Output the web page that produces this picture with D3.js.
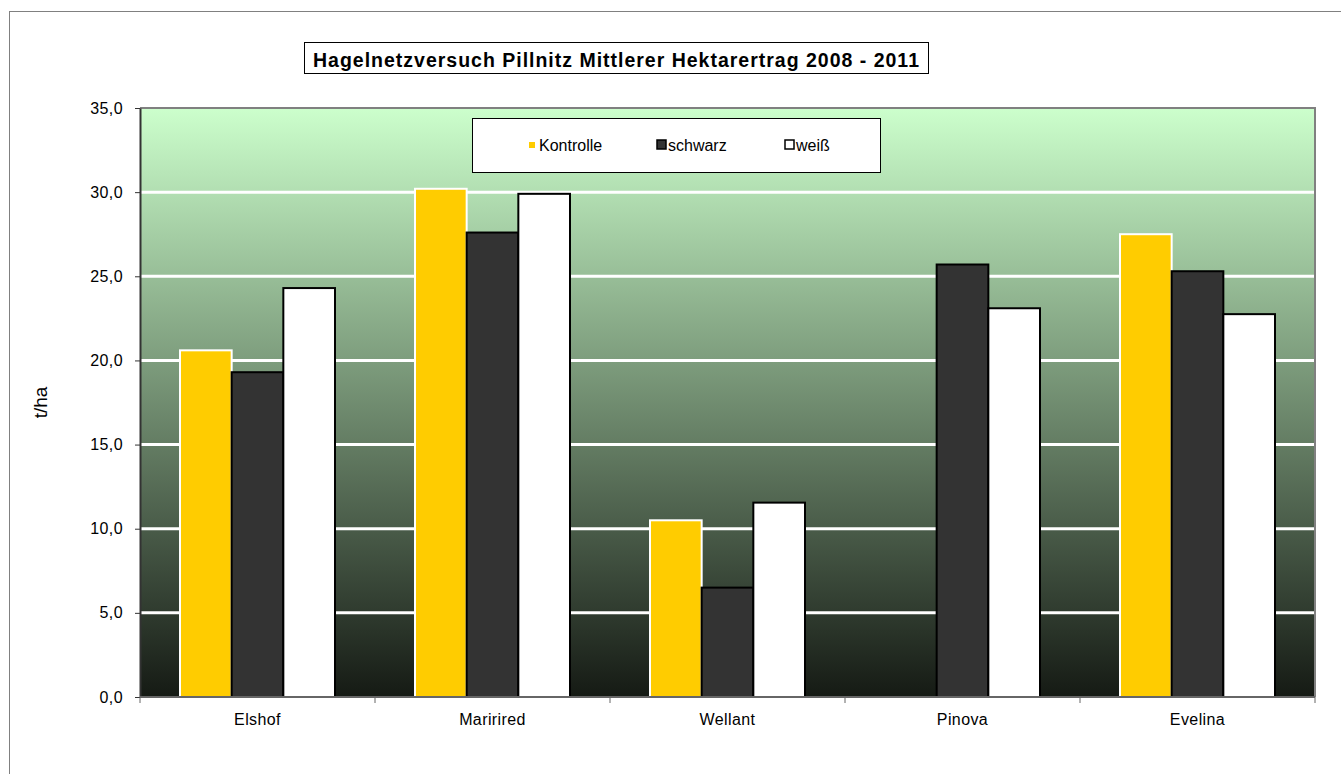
<!DOCTYPE html>
<html>
<head>
<meta charset="utf-8">
<script src="https://cdn.jsdelivr.net/npm/d3@7"></script>
<style>
  body { margin: 0; background: #fff; }
  svg { display: block; font-family: "Liberation Sans", Arial, sans-serif; }
</style>
</head>
<body>
<div id="chart"></div>
<script>
// data
const sorten = ['Elshof', 'Maririred', 'Wellant', 'Pinova', 'Evelina'];
const serien = ['Kontrolle', 'schwarz', 'weiß'];
const kontrolle = [20.6, 30.2, 10.5, 0, 27.5];
const schwarz = [19.3, 27.6, 6.5, 25.7, 25.3];
const weiss = [24.3, 29.9, 11.55, 23.1, 22.75];
const yTicks = [0, 5, 10, 15, 20, 25, 30, 35];

const fills = { 'Kontrolle': '#FFCC00', 'schwarz': '#333333', 'weiß': '#FFFFFF' };
const strokes = { 'Kontrolle': '#FFFFFF', 'schwarz': '#000000', 'weiß': '#000000' };

const W = 1341, H = 774;
const margin = { left: 140, right: 26, top: 108, bottom: 77 };
const FS = 16;

const svg = d3.select('#chart').append('svg')
    .attr('width', W)
    .attr('height', H);

// outer chart frame (runs off the right and bottom edge)
svg.append('rect')
    .attr('x', 9.5).attr('y', 11.5)
    .attr('width', W + 10).attr('height', H + 10)
    .attr('fill', 'none')
    .attr('stroke', '#808080')
    .attr('stroke-width', 1);

const x0 = d3.scaleBand()
    .domain(sorten)
    .range([margin.left, W - margin.right]);

const gap = 80;
const x1 = d3.scaleBand()
    .domain(serien)
    .range([gap / 2, x0.bandwidth() - gap / 2]);

const y = d3.scaleLinear()
    .domain([0, 35])
    .range([H - margin.bottom, margin.top]);

// plot background gradient
const defs = svg.append('defs');
const grad = defs.append('linearGradient')
    .attr('id', 'bg')
    .attr('x1', 0).attr('y1', 0).attr('x2', 0).attr('y2', 1);
grad.append('stop').attr('offset', '0%').attr('stop-color', '#CCFFCC');
grad.append('stop').attr('offset', '100%').attr('stop-color', '#151a14');

svg.append('rect')
    .attr('x', margin.left)
    .attr('y', y(35))
    .attr('width', x0.range()[1] - margin.left)
    .attr('height', y(0) - y(35))
    .attr('fill', 'url(#bg)');

// gridlines
svg.append('g').selectAll('line.grid')
    .data(yTicks.filter(d => d > 0 && d < 35))
    .join('line')
    .attr('class', 'grid')
    .attr('x1', margin.left)
    .attr('x2', x0.range()[1])
    .attr('y1', d => y(d))
    .attr('y2', d => y(d))
    .attr('stroke', '#FFFFFF')
    .attr('stroke-width', 3);

// plot border top + right
svg.append('path')
    .attr('d', `M${margin.left},${y(35)}H${x0.range()[1]}V${y(0)}`)
    .attr('fill', 'none')
    .attr('stroke', '#808080')
    .attr('stroke-width', 2);

// bars
const rows = sorten.map((s, i) => ({
    sorte: s,
    werte: [
        { serie: 'Kontrolle', v: kontrolle[i] },
        { serie: 'schwarz', v: schwarz[i] },
        { serie: 'weiß', v: weiss[i] }
    ]
}));

svg.append('g').selectAll('g')
    .data(rows)
    .join('g')
    .attr('transform', d => `translate(${x0(d.sorte)},0)`)
    .selectAll('rect')
    .data(d => d.werte.filter(w => w.v > 0))
    .join('rect')
    .attr('x', d => x1(d.serie))
    .attr('y', d => y(d.v))
    .attr('width', x1.bandwidth())
    .attr('height', d => y(0) - y(d.v))
    .attr('fill', d => fills[d.serie])
    .attr('stroke', d => strokes[d.serie])
    .attr('stroke-width', 2);

// y axis
const yAxis = svg.append('g')
    .attr('transform', `translate(${margin.left},0)`)
    .call(d3.axisLeft(y).tickValues(yTicks).tickSize(5).tickSizeOuter(0).tickPadding(12)
        .tickFormat(d => d3.format('.1f')(d).replace('.', ',')));
yAxis.select('.domain').attr('stroke', '#333').attr('stroke-width', 2);
yAxis.selectAll('.tick line').attr('stroke', '#333');
yAxis.selectAll('text')
    .attr('fill', '#000')
    .style('font-size', FS + 'px')
    .style('letter-spacing', '0.4px')
    .style('font-family', '"Liberation Sans", Arial, sans-serif');

// x axis with ticks between categories
const xAxis = svg.append('g')
    .attr('transform', `translate(0,${y(0)})`);
xAxis.append('line')
    .attr('x1', margin.left).attr('x2', x0.range()[1])
    .attr('stroke', '#666').attr('stroke-width', 2);
xAxis.selectAll('line.sep')
    .data(sorten.map(s => x0(s)).concat([x0.range()[1]]))
    .join('line')
    .attr('class', 'sep')
    .attr('x1', d => d).attr('x2', d => d)
    .attr('y1', 0).attr('y2', 6)
    .attr('stroke', '#666');
xAxis.selectAll('text')
    .data(sorten)
    .join('text')
    .attr('x', d => x0(d) + x0.bandwidth() / 2)
    .attr('y', 28)
    .attr('text-anchor', 'middle')
    .style('font-size', FS + 'px')
    .style('letter-spacing', '0.4px')
    .text(d => d);

// y title
svg.append('text')
    .attr('transform', `translate(47,${(y(0) + y(35)) / 2}) rotate(-90)`)
    .attr('text-anchor', 'middle')
    .style('font-size', '19px')
    .text('t/ha');

// title box
const title = svg.append('g');
title.append('rect')
    .attr('x', 304.5).attr('y', 42.5)
    .attr('width', 624).attr('height', 31)
    .attr('fill', '#fff').attr('stroke', '#000');
title.append('text')
    .attr('x', 313).attr('y', 66.5)
    .attr('textLength', 606)
    .attr('lengthAdjust', 'spacing')
    .style('font-size', '19.5px')
    .attr('font-weight', 'bold')
    .text('Hagelnetzversuch Pillnitz Mittlerer Hektarertrag 2008 - 2011');

// legend
const legend = svg.append('g');
legend.append('rect')
    .attr('x', 472.5).attr('y', 118.5)
    .attr('width', 408).attr('height', 54)
    .attr('fill', '#fff').attr('stroke', '#000');
const legX = [528, 657, 785];
const items = legend.selectAll('g')
    .data(serien)
    .join('g')
    .attr('transform', (d, i) => `translate(${legX[i]},145)`);
items.append('rect')
    .attr('x', d => d === 'Kontrolle' ? 1 : 0)
    .attr('y', d => d === 'Kontrolle' ? -3 : -5)
    .attr('width', d => d === 'Kontrolle' ? 6 : 9)
    .attr('height', d => d === 'Kontrolle' ? 6 : 9)
    .attr('fill', d => fills[d])
    .attr('stroke', d => d === 'Kontrolle' ? 'none' : '#000')
    .attr('stroke-width', 1.5);
items.append('text')
    .attr('x', 11)
    .attr('y', 6)
    .style('font-size', FS + 'px')
    .text(d => d);
</script>
</body>
</html>
